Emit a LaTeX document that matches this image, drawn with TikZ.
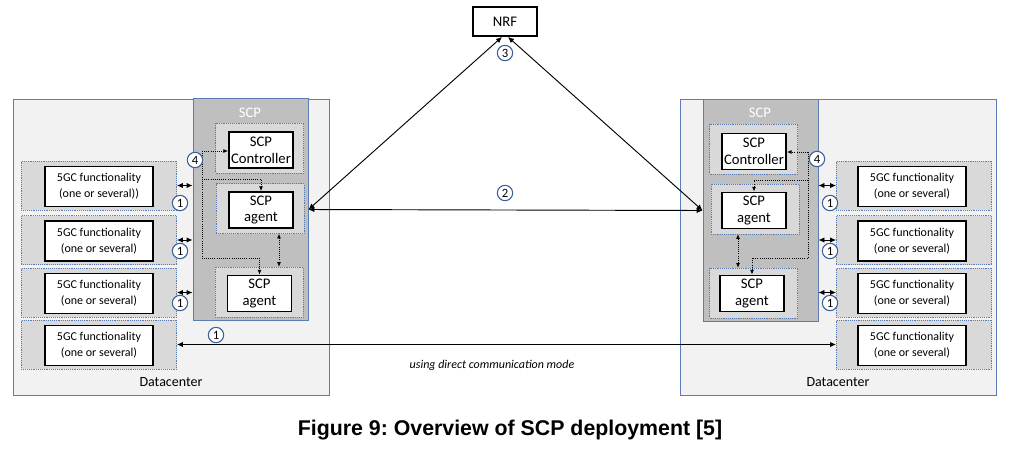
\documentclass[tikz,border=0pt]{standalone}
\usepackage{fontspec}
\setmainfont{Carlito}
\newfontfamily\capfont{Liberation Sans}
\usetikzlibrary{arrows.meta}
\frenchspacing
\definecolor{dcline}{HTML}{5B7DB3}
\definecolor{numline}{HTML}{3B5E9E}
\definecolor{dcfill}{HTML}{F2F2F2}
\definecolor{scpfill}{HTML}{BFBFBF}
\definecolor{slotfill}{HTML}{D9D9D9}
\begin{document}
\begin{tikzpicture}[x=0.75pt, y=-0.75pt,
  dc/.style={draw=dcline, fill=dcfill, line width=0.7pt, inner sep=0pt, minimum width=237pt, minimum height=222pt},
  scpbox/.style={draw=dcline, fill=scpfill, line width=0.7pt, inner sep=0pt, minimum width=86.25pt, minimum height=166.5pt},
  slot/.style={draw=dcline, densely dotted, fill=slotfill, inner sep=0pt, minimum width=66pt, minimum height=37.5pt},
  fnslot/.style={draw=dcline, densely dotted, fill=slotfill, inner sep=0pt, minimum width=116.5pt, minimum height=36.75pt},
  fn/.style={draw, line width=1.4pt, fill=white, inner sep=0pt, minimum width=81pt, minimum height=30pt,
    align=center, font=\fontsize{9}{12}\selectfont},
  ag/.style={draw, line width=1.4pt, fill=white, inner sep=0pt, minimum width=48pt, minimum height=27pt,
    align=center, font=\fontsize{11}{12.5}\selectfont},
  num/.style={circle, draw=numline, fill=white, line width=0.8pt, inner sep=0pt, minimum size=11.5pt,
    font=\fontsize{9.5}{9.5}\selectfont},
  link/.style={{Latex[length=4.5pt,width=4pt]}-{Latex[length=4.5pt,width=4pt]}, line width=0.7pt},
  ctl/.style={densely dotted, line width=0.6pt, -{Latex[length=3.5pt,width=3pt]}},
  both/.style={{Latex[length=3.5pt,width=3pt]}-{Latex[length=3.5pt,width=3pt]}},
  lab/.style={font=\fontsize{10.5}{12}\selectfont}]
\useasboundingbox (0,0) rectangle (1014,454);
% left datacenter
\node[dc] (dcL) at (171,247) {};
\node[lab] (dcLt) at (171,382) {Datacenter};
\node[scpbox] (scpL) at (250.5,209.5) {};
\node[lab, text=white, font=\fontsize{11}{12}\selectfont] (scpLt) at (250,113) {SCP};
\node[slot] (ctlLc) at (259.5,148) {};
\node[ag] (ctlL) at (261,150) {SCP\\Controller};
\node[slot] (agL1c) at (260,208.5) {};
\node[ag] (agL1) at (261,210) {SCP\\agent};
\node[slot] (agL2c) at (259,292) {};
\node[ag] (agL2) at (259.5,293.5) {SCP\\agent};
\foreach \y/\e [count=\i] in {185.5/),240/,292.5/,344.5/} {
  \node[fnslot] (gLc\i) at (99,\y) {};
  \node[fn] (gL\i) at (99,\y+1) {5GC functionality\\(one or several)\e};
}
% right datacenter
\node[dc] (dcR) at (838.5,247) {};
\node[lab] (dcRt) at (838,382) {Datacenter};
\node[scpbox] (scpR) at (760.5,210.5) {};
\node[lab, text=white, font=\fontsize{11}{12}\selectfont] (scpRt) at (760,113) {SCP};
\node[slot] (ctlRc) at (753.5,149) {};
\node[ag] (ctlR) at (754,151.5) {SCP\\Controller};
\node[slot] (agR1c) at (755,209) {};
\node[ag] (agR1) at (754,210.5) {SCP\\agent};
\node[slot] (agR2c) at (753.5,293) {};
\node[ag] (agR2) at (752,293.5) {SCP\\agent};
\foreach \y [count=\i] in {185.5,240,292.5,344.5} {
  \node[fnslot] (gRc\i) at (914,\y) {};
  \node[fn] (gR\i) at (912,\y+1) {5GC functionality\\(one or several)};
}
% NRF
\node[draw, line width=1.4pt, fill=white, minimum width=48pt, minimum height=21.75pt, inner sep=0pt,
  font=\fontsize{11}{12}\selectfont] (nrf) at (505,21.5) {NRF};
% links
\draw[link] ([xshift=-2.25pt]nrf.south) -- (scpL.east);
\draw[link] ([xshift=2.25pt]nrf.south) -- (scpR.west);
\draw[link] (scpL.east) -- (scpR.west);
\foreach \i in {1,2,3} {
  \draw[link] (gLc\i.east) -- (gLc\i.east -| scpL.west);
  \draw[link] (scpR.east |- gRc\i.west) -- (gRc\i.west);
}
\draw[link] (gLc4.east) -- (gRc4.west);
\node[font=\fontsize{9}{10}\selectfont\itshape] (direct) at (492,365) {using direct communication mode};
% control paths
\coordinate (hubL) at (202,151);
\coordinate (kL1) at (202,179);
\coordinate (kL2) at (202,258);
\draw[ctl] (hubL) -- (hubL -| ctlL.west);
\draw[ctl] (hubL) -- (kL2) -- (kL2 -| agL2.north) -- (agL2.north);
\draw[ctl] (kL1) -- (kL1 -| agL1.north) -- (agL1.north);
\draw[ctl, both] ([xshift=14.25pt]agL1c.south) -- ([xshift=14.25pt]agL1c.south |- agL2c.north);
\coordinate (hubR) at (808,152);
\coordinate (kR1) at (808,180);
\coordinate (kR2) at (808,258);
\draw[ctl] (hubR) -- (hubR -| ctlR.east);
\draw[ctl] (hubR) -- (kR2) -- (kR2 -| agR2.north) -- (agR2.north);
\draw[ctl] (kR1) -- (kR1 -| agR1.north) -- (agR1.north);
\draw[ctl, both] ([xshift=-12.75pt]agR1c.south) -- ([xshift=-12.75pt]agR1c.south |- agR2c.north);
% numbers
\foreach \y [count=\i] in {203,251,303} {
  \node[num] (nL\i) at (180,\y) {1};
  \node[num] (nR\i) at (830,\y) {1};
}
\node[num] (nL4) at (216,335) {1};
\node[num] (two) at (505,193) {2};
\node[num] (three) at (505,53) {3};
\node[num] (fourL) at (195,160) {4};
\node[num] (fourR) at (817,159) {4};
% caption
\node[font=\capfont\bfseries\fontsize{16}{19}\selectfont] (caption) at (510,430) {Figure 9: Overview of SCP deployment [5]};
\end{tikzpicture}
\end{document}
